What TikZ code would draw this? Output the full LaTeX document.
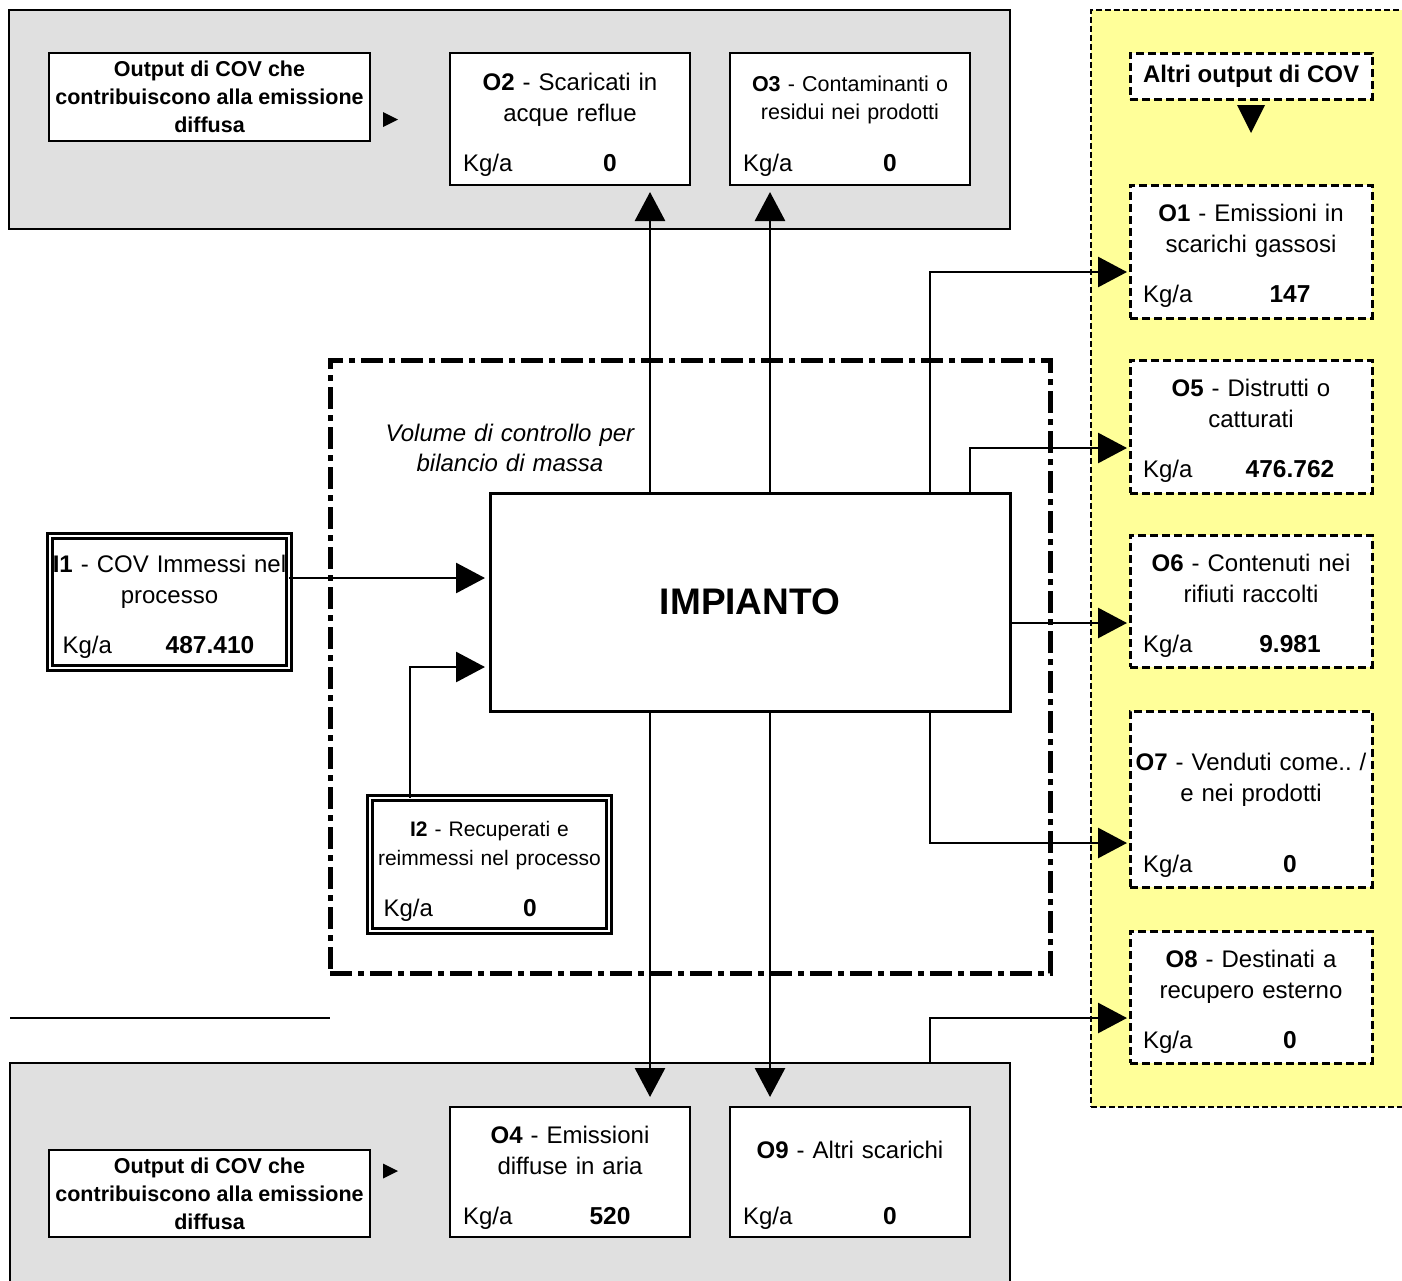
\documentclass[tikz,border=0pt]{standalone}
\usepackage{fontspec}
\setmainfont{Liberation Sans}
\usetikzlibrary{arrows.meta,calc}
\definecolor{DiffClr}{RGB}{224,224,224}
\definecolor{OtherClr}{RGB}{255,255,153}

\begin{document}
\frenchspacing
\begin{tikzpicture}[x=1pt,y=-1pt,
  >={Triangle[length=29pt,width=30pt]},
  every node/.style={inner sep=0pt,outer sep=0pt},
  area/.style={draw,line width=1.5pt,anchor=north west},
  ctrl/.style={draw,line width=5pt,dash pattern=on 22pt off 6pt on 6pt off 6pt,anchor=north west},
  gbox/.style={draw,line width=1.5pt,fill=white,anchor=north west,minimum width=240pt,minimum height=132pt},
  dbox/.style={draw,line width=3pt,dash pattern=on 8pt off 4pt,fill=white,anchor=north west,minimum width=242pt,minimum height=133pt},
  ibox/.style={draw,double,double distance=2.5pt,line width=2.5pt,anchor=north west,minimum width=239pt,minimum height=132pt},
  headbox/.style={draw,line width=1.5pt,fill=white,anchor=north west,minimum width=321pt,minimum height=88pt,align=center,font=\fontsize{21.5}{28}\selectfont\bfseries},
  ttl/.style={anchor=base,text width=240pt,align=center,font=\fontsize{24}{31}\selectfont},
  kg/.style={anchor=base west,font=\fontsize{24}{29}\selectfont},
  val/.style={anchor=base,font=\fontsize{24.5}{29}\selectfont\bfseries},
  conn/.style={line width=2.8pt}]
\useasboundingbox (0,0) rectangle (1402,1280);

% aree di fondo
\node[area,fill=DiffClr,minimum width=1001pt,minimum height=219pt] (diffTop) at (9,10) {};
\node[area,fill=DiffClr,minimum width=1000pt,minimum height=240pt] (diffBot) at (10,1063) {};
\node[area,line width=2pt,dash pattern=on 6pt off 3pt,fill=OtherClr,minimum width=330pt,minimum height=1097pt] (other) at (1091,10) {};
\draw[line width=1.5pt] (10,1018) -- (330,1018);

% volume di controllo
\node[ctrl,minimum width=720pt,minimum height=613pt] (vc) at (330,360) {};
\node[anchor=base,text width=300pt,align=center,font=\fontsize{24}{30}\selectfont\itshape] (vcl) at (510,441) {Volume di controllo per\\bilancio di massa};

\node[draw,line width=3pt,fill=white,anchor=north west,minimum width=520pt,minimum height=218pt,font=\fontsize{37}{40}\selectfont\bfseries] (imp) at (490,493) {IMPIANTO};

% output diffusi
\node[headbox] (outTop) at (49,53) {Output di COV che\\contribuiscono alla emissione\\diffusa};
\node[headbox,minimum height=87pt] (outBot) at (49,1150) {Output di COV che\\contribuiscono alla emissione\\diffusa};
\fill ($(outTop.east)+(13,15)$) -- ++(15,7.5) -- ++(-15,7.5) -- cycle;
\fill ($(outBot.east)+(13,-30)$) -- ++(15,7.5) -- ++(-15,7.5) -- cycle;

\node[gbox] (O2) at (450,53) {};
\node[ttl] (O2t) at ($(O2.north)+(0,37)$) {\textbf{O2} - Scaricati in\\acque reflue};
\node[kg] (O2k) at ($(O2.north west)+(13,118)$) {Kg/a};
\node[val] (O2v) at ($(O2.north west)+(160,118)$) {0};

\node[gbox] (O3) at (730,53) {};
\node[ttl,font=\fontsize{21.5}{28}\selectfont] (O3t) at ($(O3.north)+(0,38)$) {\textbf{O3} - Contaminanti o\\residui nei prodotti};
\node[kg] (O3k) at ($(O3.north west)+(13,118)$) {Kg/a};
\node[val] (O3v) at ($(O3.north west)+(160,118)$) {0};

\node[gbox,minimum height=130pt] (O4) at (450,1107) {};
\node[ttl] (O4t) at ($(O4.north)+(0,36)$) {\textbf{O4} - Emissioni\\diffuse in aria};
\node[kg] (O4k) at ($(O4.north west)+(13,117)$) {Kg/a};
\node[val] (O4v) at ($(O4.north west)+(160,117)$) {520};

\node[gbox,minimum height=130pt] (O9) at (730,1107) {};
\node[ttl] (O9t) at ($(O9.north)+(0,51)$) {\textbf{O9} - Altri scarichi};
\node[kg] (O9k) at ($(O9.north west)+(13,117)$) {Kg/a};
\node[val] (O9v) at ($(O9.north west)+(160,117)$) {0};

% altri output
\node[dbox,minimum height=46pt,font=\fontsize{24}{29}\selectfont\bfseries] (altri) at (1130,53) {Altri output di COV};
\fill ($(altri.south)+(-14,6)$) -- ++(28,0) -- ++(-14,28) -- cycle;

\node[dbox] (O1) at (1130,185) {};
\node[ttl] (O1t) at ($(O1.north)+(0,36)$) {\textbf{O1} - Emissioni in\\scarichi gassosi};
\node[kg] (O1k) at ($(O1.north west)+(13,117)$) {Kg/a};
\node[val] (O1v) at ($(O1.north west)+(160,117)$) {147};

\node[dbox] (O5) at (1130,360) {};
\node[ttl] (O5t) at ($(O5.north)+(0,36)$) {\textbf{O5} - Distrutti o\\catturati};
\node[kg] (O5k) at ($(O5.north west)+(13,117)$) {Kg/a};
\node[val] (O5v) at ($(O5.north west)+(160,117)$) {476.762};

\node[dbox,minimum height=132pt] (O6) at (1130,535) {};
\node[ttl] (O6t) at ($(O6.north)+(0,36)$) {\textbf{O6} - Contenuti nei\\rifiuti raccolti};
\node[kg] (O6k) at ($(O6.north west)+(13,117)$) {Kg/a};
\node[val] (O6v) at ($(O6.north west)+(160,117)$) {9.981};

\node[dbox,minimum height=176pt] (O7) at (1130,711) {};
\node[ttl] (O7t) at ($(O7.north)+(0,59)$) {\textbf{O7} - Venduti come.. /\\e nei prodotti};
\node[kg] (O7k) at ($(O7.north west)+(13,161)$) {Kg/a};
\node[val] (O7v) at ($(O7.north west)+(160,161)$) {0};

\node[dbox,minimum height=132pt] (O8) at (1130,931) {};
\node[ttl] (O8t) at ($(O8.north)+(0,36)$) {\textbf{O8} - Destinati a\\recupero esterno};
\node[kg] (O8k) at ($(O8.north west)+(13,117)$) {Kg/a};
\node[val] (O8v) at ($(O8.north west)+(160,117)$) {0};

% input
\node[ibox] (I1) at (50,536) {};
\node[ttl] (I1t) at ($(I1.north)+(0,36.5)$) {\textbf{I1} - COV Immessi nel\\processo};
\node[kg] (I1k) at ($(I1.north west)+(12.5,117.5)$) {Kg/a};
\node[val] (I1v) at ($(I1.north west)+(160,117.5)$) {487.410};

\node[ibox,minimum height=133pt] (I2) at (370,798) {};
\node[ttl,font=\fontsize{21}{29}\selectfont] (I2t) at ($(I2.north)+(0,38)$) {\textbf{I2} - Recuperati e\\reimmessi nel processo};
\node[kg] (I2k) at ($(I2.north west)+(13.5,118.5)$) {Kg/a};
\node[val] (I2v) at ($(I2.north west)+(160,118.5)$) {0};

% collegamenti
\coordinate (in1) at (485,578);
\coordinate (in2) at (485,667);
\coordinate (toO2) at (650,192);
\coordinate (toO3) at (770,192);
\coordinate (toO4) at (650,1097);
\coordinate (toO9) at (770,1097);
\coordinate (toO1) at (1127,272);
\coordinate (toO5) at (1127,448);
\coordinate (toO6) at (1127,623);
\coordinate (toO7) at (1127,843);
\coordinate (toO8) at (1127,1018);

\draw[conn,->] (I1.east |- in1) -- (in1);
\draw[conn,->] ($(I2.north west)+(40,0)$) |- (in2);
\draw[conn,->] (imp.north -| toO2) -- (toO2);
\draw[conn,->] (imp.north -| toO3) -- (toO3);
\draw[conn,->] (imp.south -| toO4) -- (toO4);
\draw[conn,->] (imp.south -| toO9) -- (toO9);
\draw[conn,->] ($(imp.north east)+(-80,0)$) |- (toO1);
\draw[conn,->] ($(imp.north east)+(-40,0)$) |- (toO5);
\draw[conn,->] (imp.east |- toO6) -- (toO6);
\draw[conn,->] ($(imp.south east)+(-80,0)$) |- (toO7);
\draw[conn,->] ($(diffBot.north east)+(-80,0)$) |- (toO8);

\end{tikzpicture}
\end{document}
